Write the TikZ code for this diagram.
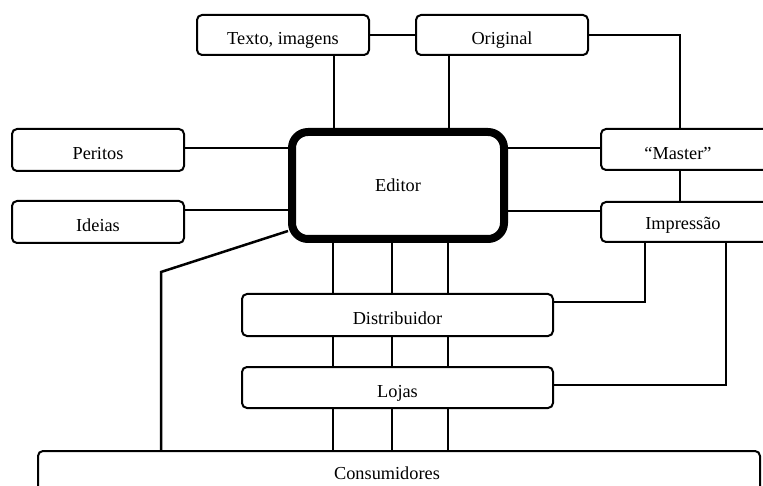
\documentclass[tikz,border=0pt]{standalone}
\usepackage{fontspec}
\setmainfont{Liberation Serif}
\begin{document}
\begin{tikzpicture}[x=1pt,y=-1pt,
  box/.style={draw=black, line width=2pt, rounded corners=5pt, fill=white, inner sep=0pt, text height=19pt, text depth=0pt, font=\fontsize{18.3}{22}\selectfont},
  lbl/.style={inner sep=0pt, font=\fontsize{18.3}{22}\selectfont},
  conn/.style={line width=2pt, line join=miter},
  editorbox/.style={draw=black, line width=8pt, rounded corners=16pt, fill=white, inner sep=0pt, font=\fontsize{18.3}{22}\selectfont}]
\useasboundingbox (0,0) rectangle (763,486);
\clip (0,0) rectangle (763,486);
% nodes
\node[box, minimum width=172pt, minimum height=40pt] (texto) at (283,35) {Texto, imagens};
\node[box, minimum width=172pt, minimum height=40pt] (original) at (502,35) {Original};
\node[box, minimum width=172pt, minimum height=42pt] (peritos) at (98,150) {Peritos};
\node[box, minimum width=172pt, minimum height=42pt] (ideias) at (98,222) {Ideias};
\node[editorbox, minimum width=212pt, minimum height=107pt] (editor) at (398,185.5) {Editor};
\node[box, minimum width=220pt, minimum height=41pt, anchor=west] (master) at (600,149.5) {};
\node[lbl] (mastert) at (678,153) {``Master''};
\node[box, minimum width=220pt, minimum height=40pt, anchor=west] (impress) at (600,222) {};
\node[lbl] (impresst) at (683,225) {Impressão};
\node[box, minimum width=311pt, minimum height=42pt] (distrib) at (397.5,315) {Distribuidor};
\node[box, minimum width=311pt, minimum height=41pt] (lojas) at (397.5,387.5) {Lojas};
\node[box, minimum width=722pt, minimum height=80pt, anchor=north west] (consum) at (37,450) {};
\node[lbl] (consumt) at (387,473) {Consumidores};
\coordinate (c1) at (680,35);
\coordinate (c2) at (645,302);
\coordinate (c3) at (726,385);
\coordinate (c4) at (161,272);
% connectors
\draw[conn] (texto.east) -- (original.west);
\draw[conn] (334,0 |- texto.south) -- (334,0 |- editor.north);
\draw[conn] (449,0 |- original.south) -- (449,0 |- editor.north);
\draw[conn] (original.east |- c1) -- (c1) -- (c1 |- master.north);
\draw[conn] (peritos.east |- 0,148) -- (editor.west |- 0,148);
\draw[conn] (ideias.east |- 0,210) -- (editor.west |- 0,210);
\draw[conn] (editor.east |- 0,148) -- (master.west |- 0,148);
\draw[conn] (editor.east |- 0,211) -- (impress.west |- 0,211);
\draw[conn] (680,0 |- master.south) -- (680,0 |- impress.north);
\draw[conn] (c2 |- impress.south) -- (c2) -- (distrib.east |- c2);
\draw[conn] (c3 |- impress.south) -- (c3) -- (lojas.east |- c3);
\foreach \xx in {333,392,448} {
  \draw[conn] (\xx,0 |- editor.south) -- (\xx,0 |- distrib.north);
  \draw[conn] (\xx,0 |- distrib.south) -- (\xx,0 |- lojas.north);
  \draw[conn] (\xx,0 |- lojas.south) -- (\xx,0 |- consum.north);
}
\draw[line width=2.5pt, line join=miter] (c4 |- consum.north) -- (c4) -- (editor.west |- 0,231);
\end{tikzpicture}
\end{document}
